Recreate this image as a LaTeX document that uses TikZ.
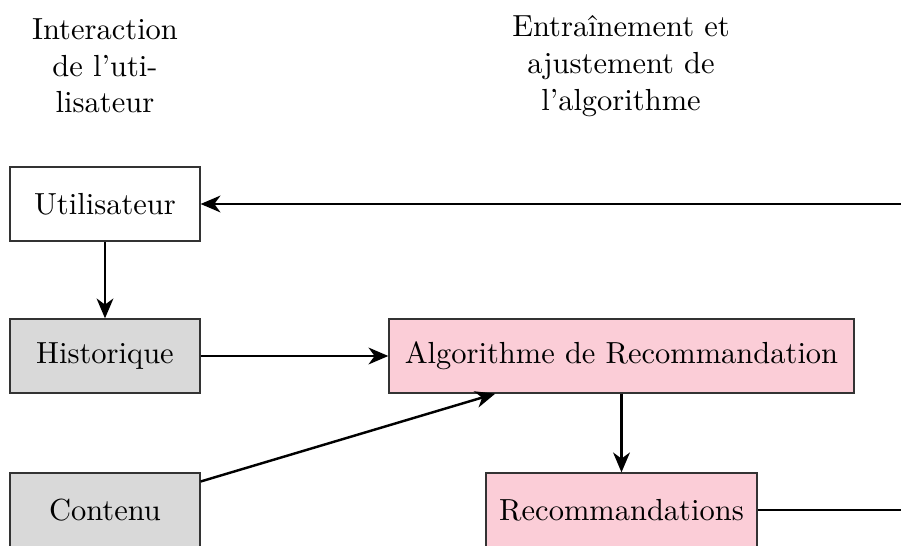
\documentclass[tikz,border=0pt]{standalone}
\usepackage{fontspec}
\usetikzlibrary{arrows.meta}
\definecolor{algopink}{RGB}{251,205,215}
\begin{document}
\begin{tikzpicture}[x=0.3279pt, y=-0.3279pt,
  box/.style={draw=black!80, line width=0.4pt, inner sep=0pt, minimum height=24.3pt, align=center},
  userbox/.style={box, fill=white, minimum width=62.3pt},
  databox/.style={box, fill=black!15, minimum width=62.3pt},
  algobox/.style={box, fill=algopink},
  title/.style={align=center, inner sep=0pt},
  flow/.style={-{Stealth[length=6.5pt,width=5.5pt,inset=2pt]}, line width=0.8pt}
]
\clip (0,0) rectangle (901,546);

% column headings
\node[title] (h1) at (105,66) {Interaction\\de l'uti-\\lisateur};
\node[title] (h2) at (621,66) {Entraînement et\\ajustement de\\l'algorithme};

% boxes
\node[userbox] (user) at (105,204) {Utilisateur};
\node[databox] (hist) at (105,356) {Historique};
\node[databox] (cont) at (105,510) {Contenu};
\node[algobox, minimum width=152.5pt] (algo) at (621.5,356) {Algorithme de Recommandation};
\node[algobox, minimum width=88.9pt] (reco) at (621.5,510) {Recommandations};

% connectors
\draw[flow] (user) -- (hist);
\draw[flow] (hist) -- (algo);
\draw[flow] (cont) -- (algo);
\draw[flow] (algo) -- (reco);
\coordinate (loop) at (960,510);
\draw[flow] (reco.east) -- (loop) |- (user.east);
\end{tikzpicture}
\end{document}
